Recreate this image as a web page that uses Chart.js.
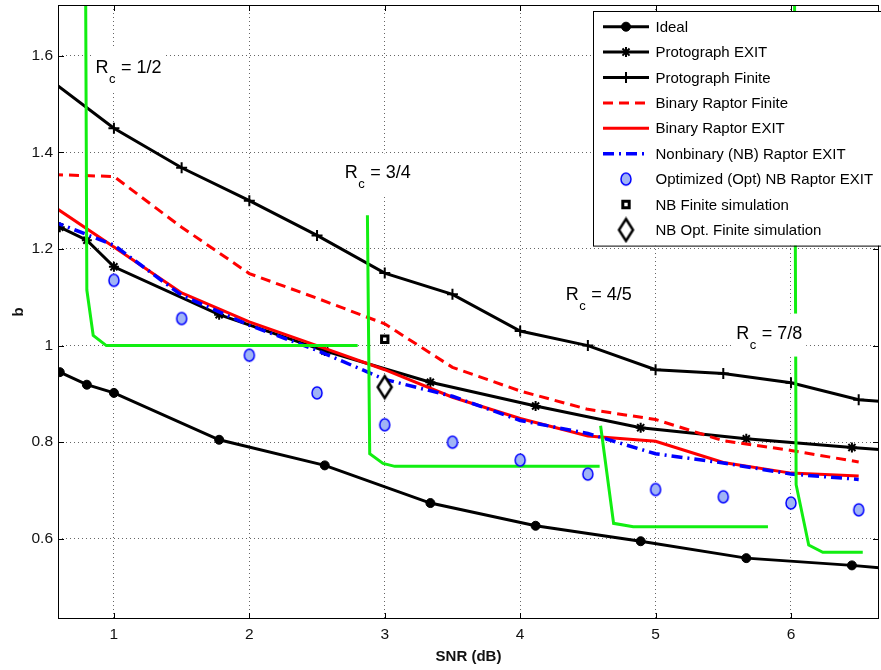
<!DOCTYPE html>
<html lang="en">
<head>
<meta charset="UTF-8">
<title>b versus SNR</title>
<script src="https://cdn.jsdelivr.net/npm/chart.js"></script>
<style>
  html, body { margin: 0; padding: 0; background: #fff; }
  canvas { display: block; }
</style>
</head>
<body>
<canvas id="chart" width="881" height="670"></canvas>
<script>
// ---- values ----
const xTicks = [1, 2, 3, 4, 5, 6];
const yTicks = [0.6, 0.8, 1.0, 1.2, 1.4, 1.6];

const idealSnr = [0.6, 0.8, 1.0, 1.777, 2.557, 3.337, 4.114, 4.89, 5.67, 6.45, 7.23];
const idealB = [0.945, 0.919, 0.902, 0.805, 0.752, 0.674, 0.627, 0.595, 0.560, 0.545, 0.526];
const protoExitB = [1.245, 1.218, 1.163, 1.064, 0.989, 0.924, 0.875, 0.830, 0.807, 0.789, 0.773];

const protoFiniteSnr = [0.5, 1, 1.5, 2, 2.5, 3, 3.5, 4, 4.5, 5, 5.5, 6, 6.5, 7];
const protoFiniteB = [1.556, 1.450, 1.368, 1.300, 1.228, 1.150, 1.106, 1.030, 1.000, 0.950, 0.942, 0.923, 0.888, 0.878];

const raptorSnr = [0.55, 1, 1.5, 2, 2.5, 3, 3.5, 4, 4.5, 5, 5.5, 6, 6.5];
const binFiniteB = [1.354, 1.350, 1.245, 1.149, 1.098, 1.045, 0.955, 0.906, 0.868, 0.847, 0.803, 0.783, 0.759];
const binExitB = [1.289, 1.204, 1.109, 1.049, 1.000, 0.950, 0.893, 0.849, 0.813, 0.802, 0.758, 0.736, 0.730];
const nbExitB = [1.257, 1.208, 1.104, 1.042, 0.990, 0.930, 0.895, 0.845, 0.818, 0.776, 0.757, 0.734, 0.723];

const optSnr = [1, 1.5, 2, 2.5, 3, 3.5, 4, 4.5, 5, 5.5, 6, 6.5];
const optB = [1.135, 1.056, 0.980, 0.902, 0.836, 0.800, 0.763, 0.734, 0.702, 0.687, 0.674, 0.660];

const nbFiniteSnr = [3];
const nbFiniteB = [1.013];
const nbOptFiniteSnr = [3];
const nbOptFiniteB = [0.914];

// green threshold curves, one per code rate
const thrHalfSnr = [0.791, 0.800, 0.847, 0.944, 2.80];
const thrHalfB = [1.75, 1.115, 1.021, 1.000, 1.000];
const thrThreeQSnr = [2.872, 2.889, 2.987, 3.074, 4.587];
const thrThreeQB = [1.270, 0.776, 0.756, 0.750, 0.750];
const thrFourFifthSnr = [4.594, 4.690, 4.835, 5.830];
const thrFourFifthB = [0.834, 0.632, 0.625, 0.625];
const thrSevenEighthSnr = [6.026, 6.038, 6.131, 6.235, 6.530];
const thrSevenEighthB = [1.75, 0.712, 0.587, 0.572, 0.572];

// code rate labels (anchored in data units)
const rateText = ['1/2', '3/4', '4/5', '7/8'];
const rateSnr = [0.864, 2.705, 4.336, 5.595];
const rateB = [1.565, 1.346, 1.094, 1.0145];

// ---- helpers ----
function pts(xs, ys) {
    return xs.map((x, i) => ({ x: x, y: ys[i] }));
}

function hasFont(name) {
    const c = document.createElement('canvas').getContext('2d');
    c.font = '20px monospace';
    const a = c.measureText('Protograph EXIT').width;
    c.font = '20px "' + name + '", monospace';
    return c.measureText('Protograph EXIT').width !== a;
}
const narrow = hasFont('Liberation Sans Narrow');
const textFamily = narrow ? '"Liberation Sans Narrow", "Liberation Sans", Arial' : '"Liberation Sans", Arial';
const legendSize = narrow ? 18 : 15;
const rateSize = narrow ? 20 : 18;

function ellipseMarker(rx, ry, fill, stroke, lw) {
    const c = document.createElement('canvas');
    c.width = Math.ceil(2 * rx + lw + 2);
    c.height = Math.ceil(2 * ry + lw + 2);
    const g = c.getContext('2d');
    g.beginPath();
    g.ellipse(c.width / 2, c.height / 2, rx, ry, 0, 0, Math.PI * 2);
    g.fillStyle = fill;
    g.fill();
    g.lineWidth = lw;
    g.strokeStyle = stroke;
    g.stroke();
    return c;
}

function diamondMarker(hw, hh, lw) {
    const c = document.createElement('canvas');
    c.width = Math.ceil(2 * hw + lw + 2);
    c.height = Math.ceil(2 * hh + lw + 2);
    const g = c.getContext('2d');
    const cx = c.width / 2, cy = c.height / 2;
    g.beginPath();
    g.moveTo(cx, cy - hh);
    g.lineTo(cx + hw, cy);
    g.lineTo(cx, cy + hh);
    g.lineTo(cx - hw, cy);
    g.closePath();
    g.fillStyle = '#fff';
    g.fill();
    g.lineWidth = lw;
    g.strokeStyle = '#000';
    g.stroke();
    return c;
}

const optMarker = ellipseMarker(5, 6, 'rgb(160,180,245)', '#0000ff', 1.5);
const diamond = diamondMarker(7, 11, 2.5);
const GREEN = '#11ee11';

function greenSet(xs, ys) {
    return {
        data: pts(xs, ys), borderColor: GREEN, borderWidth: 3,
        pointRadius: 0, order: 2
    };
}

// ---- plugins ----
const framePlugin = {
    id: 'frame',
    afterDatasetsDraw(chart) {
        const { ctx, chartArea: a, scales } = chart;
        ctx.save();
        ctx.strokeStyle = '#000';
        ctx.lineWidth = 1;
        ctx.setLineDash([]);
        ctx.strokeRect(a.left + 0.5, a.top + 0.5, a.right - a.left - 1, a.bottom - a.top - 1);
        ctx.beginPath();
        xTicks.forEach(v => {
            const p = Math.round(scales.x.getPixelForValue(v)) + 0.5;
            ctx.moveTo(p, a.bottom); ctx.lineTo(p, a.bottom - 6);
            ctx.moveTo(p, a.top); ctx.lineTo(p, a.top + 6);
        });
        yTicks.forEach(v => {
            const p = Math.round(scales.y.getPixelForValue(v)) + 0.5;
            ctx.moveTo(a.left, p); ctx.lineTo(a.left + 6, p);
            ctx.moveTo(a.right, p); ctx.lineTo(a.right - 6, p);
        });
        ctx.stroke();

        // code rate labels
        ctx.textBaseline = 'alphabetic';
        ctx.textAlign = 'left';
        rateText.forEach((t, i) => {
            const x = scales.x.getPixelForValue(rateSnr[i]);
            const y = scales.y.getPixelForValue(rateB[i]);
            ctx.font = rateSize + 'px ' + textFamily;
            const wR = ctx.measureText('R').width;
            const wRest = ctx.measureText(' = ' + t).width;
            ctx.font = Math.round(rateSize * 0.7) + 'px ' + textFamily;
            const wc = ctx.measureText('c').width;
            ctx.fillStyle = '#fff';
            ctx.fillRect(x - 3, y - 25, wR + wc + wRest + 8, 43);
            ctx.fillStyle = '#000';
            ctx.font = rateSize + 'px ' + textFamily;
            ctx.fillText('R', x, y);
            ctx.fillText(' = ' + t, x + wR + wc + 1, y);
            ctx.font = Math.round(rateSize * 0.7) + 'px ' + textFamily;
            ctx.fillText('c', x + wR + 0.5, y + 10);
        });
        ctx.restore();
    }
};

const legendPlugin = {
    id: 'boxLegend',
    afterDraw(chart) {
        const ctx = chart.ctx;
        const items = chart.data.datasets.filter(d => d.label);
        const left = 593, top = 11, rowH = 25.4, firstRow = 26.7;
        ctx.save();
        ctx.fillStyle = '#fff';
        ctx.fillRect(left, top, 300, rowH * items.length + 6);
        ctx.strokeStyle = '#000';
        ctx.lineWidth = 1;
        ctx.strokeRect(left + 0.5, top + 0.5, 300, rowH * items.length + 6);
        items.forEach((ds, i) => {
            const y = firstRow + i * rowH;
            if (ds.showLine !== false) {
                ctx.strokeStyle = ds.borderColor;
                ctx.lineWidth = ds.borderWidth;
                ctx.setLineDash(ds.borderDash || []);
                ctx.beginPath();
                ctx.moveTo(603, y);
                ctx.lineTo(649, y);
                ctx.stroke();
            }
            ctx.setLineDash([]);
            if (ds.pointRadius > 0) {
                ctx.fillStyle = ds.pointBackgroundColor;
                ctx.strokeStyle = ds.pointBorderColor;
                ctx.lineWidth = ds.pointBorderWidth;
                Chart.helpers.drawPoint(ctx, {
                    pointStyle: ds.pointStyle, radius: ds.pointRadius,
                    borderWidth: ds.pointBorderWidth, rotation: 0
                }, 626, y);
            }
            ctx.fillStyle = '#000';
            ctx.font = legendSize + 'px ' + textFamily;
            ctx.textBaseline = 'middle';
            ctx.fillText(ds.label, 655.5, y + 1);
        });
        ctx.restore();
    }
};

// ---- chart ----
const datasets = [
    {
        label: 'Ideal', data: pts(idealSnr, idealB),
        borderColor: '#000', borderWidth: 3,
        pointStyle: 'circle', pointRadius: 4.5, pointBorderWidth: 1,
        pointBackgroundColor: '#000', pointBorderColor: '#000', order: 6
    },
    {
        label: 'Protograph EXIT', data: pts(idealSnr, protoExitB),
        borderColor: '#000', borderWidth: 3,
        pointStyle: 'star', pointRadius: 5, pointBorderWidth: 2,
        pointBackgroundColor: '#000', pointBorderColor: '#000', order: 6
    },
    {
        label: 'Protograph Finite', data: pts(protoFiniteSnr, protoFiniteB),
        borderColor: '#000', borderWidth: 3,
        pointStyle: 'cross', pointRadius: 5.5, pointBorderWidth: 2,
        pointBackgroundColor: '#000', pointBorderColor: '#000', order: 6
    },
    {
        label: 'Binary Raptor Finite', data: pts(raptorSnr, binFiniteB),
        borderColor: '#ff0000', borderWidth: 3, borderDash: [10, 6],
        pointRadius: 0, order: 5
    },
    {
        label: 'Binary Raptor EXIT', data: pts(raptorSnr, binExitB),
        borderColor: '#ff0000', borderWidth: 3,
        pointRadius: 0, order: 4
    },
    {
        label: 'Nonbinary (NB) Raptor EXIT', data: pts(raptorSnr, nbExitB),
        borderColor: '#0000ff', borderWidth: 3.5, borderDash: [11, 5, 2, 5],
        pointRadius: 0, order: 3
    },
    {
        label: 'Optimized (Opt) NB Raptor EXIT', data: pts(optSnr, optB),
        showLine: false, pointStyle: optMarker, pointRadius: 6, pointBorderWidth: 1.5,
        pointBackgroundColor: 'rgb(160,180,245)', pointBorderColor: '#0000ff', order: 1
    },
    {
        label: 'NB Finite simulation', data: pts(nbFiniteSnr, nbFiniteB),
        showLine: false, pointStyle: 'rect', pointRadius: 4.5, pointBorderWidth: 3,
        pointBackgroundColor: '#fff', pointBorderColor: '#000', order: 0
    },
    {
        label: 'NB Opt. Finite simulation', data: pts(nbOptFiniteSnr, nbOptFiniteB),
        showLine: false, pointStyle: diamond, pointRadius: 8, pointBorderWidth: 2.5,
        pointBackgroundColor: '#fff', pointBorderColor: '#000', order: 0
    },
    greenSet(thrHalfSnr, thrHalfB),
    greenSet(thrThreeQSnr, thrThreeQB),
    greenSet(thrFourFifthSnr, thrFourFifthB),
    greenSet(thrSevenEighthSnr, thrSevenEighthB)
];
datasets.forEach(d => { d.fill = false; d.tension = 0; d.pointHoverRadius = d.pointRadius; });

const tickFont = { family: '"Liberation Sans", Arial', size: 15.5 };
const titleFont = { family: '"Liberation Sans", Arial', size: 15, weight: 'bold' };

new Chart(document.getElementById('chart'), {
    type: 'line',
    data: { datasets: datasets },
    options: {
        responsive: false,
        animation: false,
        events: [],
        layout: { autoPadding: false, padding: { top: 5, right: 2, left: 0, bottom: 0 } },
        plugins: { legend: { display: false }, tooltip: { enabled: false } },
        scales: {
            x: {
                type: 'linear', min: 0.587, max: 6.65,
                afterBuildTicks: s => { s.ticks = xTicks.map(v => ({ value: v })); },
                afterFit: s => { s.height = 51; s.paddingLeft = 0; s.paddingRight = 0; },
                grid: { color: '#666', lineWidth: 1, drawTicks: false },
                border: { display: false, dash: [1, 3] },
                ticks: { font: tickFont, color: '#111', padding: 6, maxRotation: 0 },
                title: { display: true, text: 'SNR (dB)', font: titleFont, color: '#111', padding: { top: 0, bottom: 4 } }
            },
            y: {
                type: 'linear', min: 0.434, max: 1.705,
                afterBuildTicks: s => { s.ticks = yTicks.map(v => ({ value: v })); },
                afterFit: s => { s.width = 58; s.paddingTop = 0; s.paddingBottom = 0; },
                grid: { color: '#666', lineWidth: 1, drawTicks: false },
                border: { display: false, dash: [1, 3] },
                ticks: { font: tickFont, color: '#111', padding: 5, callback: v => String(Math.round(v * 10) / 10) },
                title: { display: true, text: 'b', font: titleFont, color: '#111', padding: { top: 10, bottom: 0 } }
            }
        }
    },
    plugins: [framePlugin, legendPlugin]
});
</script>
</body>
</html>
